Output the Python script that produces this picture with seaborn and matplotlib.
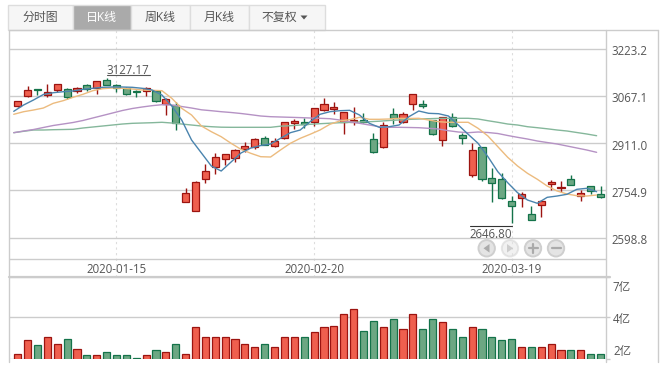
import pandas as pd
import numpy as np
import seaborn as sns
import matplotlib.pyplot as plt
from matplotlib.patches import Rectangle, Circle, Polygon
from matplotlib.transforms import ScaledTranslation

# candle values
opens = [3034.7, 3066.7, 3088.9, 3071.0, 3086.6, 3090.9, 3083.3, 3102.1, 3092.2, 3118.6,
         3102.1, 3094.2, 3083.3, 3082.3, 3084.3, 3040.3, 3036.0, 2715.2, 2685.4, 2793.2,
         2830.9, 2857.4, 2860.7, 2891.5, 2897.1, 2926.8, 2900.4, 2926.8, 2977.4, 2979.8,
         2981.7, 3021.4, 3023.7, 2981.7, 2979.8, 2987.4, 2923.5, 2899.1, 3006.2, 2979.8,
         3039.3, 3040.3, 2987.4, 2920.2, 2998.3, 2936.8, 2804.5, 2897.1, 2794.6, 2791.3,
         2718.5, 2728.4, 2675.5, 2705.3, 2776.7, 2763.5, 2791.3, 2737.0, 2768.1, 2741.7]
closes = [3049.2, 3085.6, 3085.6, 3080.9, 3105.4, 3064.4, 3094.2, 3090.9, 3115.3, 3104.1,
          3093.2, 3074.3, 3079.0, 3094.2, 3051.2, 3057.8, 2976.4, 2745.0, 2781.3, 2817.7,
          2866.0, 2873.9, 2889.1, 2900.4, 2925.5, 2905.7, 2916.9, 2981.7, 2983.1, 2974.1,
          3028.0, 3039.3, 3029.4, 3012.8, 2987.4, 2982.4, 2880.5, 2969.8, 2993.0, 3008.2,
          3072.3, 3033.7, 2942.1, 2996.3, 2966.5, 2926.8, 2887.2, 2791.3, 2778.0, 2728.4,
          2702.0, 2743.6, 2657.7, 2720.5, 2782.3, 2765.8, 2771.4, 2745.0, 2751.6, 2733.7]
highs = [3049.2, 3099.8, 3090.9, 3105.4, 3105.4, 3093.2, 3096.5, 3107.4, 3115.3, 3127.17,
         3106.4, 3096.5, 3086.6, 3095.5, 3086.6, 3061.1, 3047.9, 2763.5, 2785.6, 2840.9,
         2877.2, 2875.0, 2891.5, 2913.6, 2926.8, 2934.4, 2926.8, 2981.7, 2990.7, 2993.0,
         3028.0, 3059.1, 3045.9, 3012.8, 3029.4, 3009.5, 2945.4, 2979.8, 3026.1, 3012.8,
         3072.3, 3053.5, 2989.0, 2998.3, 3009.5, 2943.4, 2910.3, 2897.1, 2827.6, 2813.1,
         2736.0, 2750.2, 2702.0, 2722.8, 2788.9, 2786.6, 2804.5, 2755.9, 2768.1, 2770.1]
lows = [3029.4, 3064.4, 3070.0, 3064.4, 3080.9, 3055.8, 3077.6, 3084.3, 3073.3, 3102.1,
        3080.9, 3070.0, 3064.4, 3067.7, 3046.9, 3003.9, 2954.3, 2715.2, 2685.4, 2778.0,
        2807.8, 2838.5, 2849.5, 2880.5, 2890.5, 2903.7, 2899.1, 2923.5, 2957.6, 2961.9,
        2966.5, 3017.1, 3006.2, 2942.1, 2970.8, 2979.1, 2877.2, 2895.8, 2974.1, 2978.4,
        3021.4, 3026.1, 2937.8, 2902.4, 2964.2, 2907.0, 2797.9, 2784.6, 2715.2, 2727.1,
        2646.8, 2700.6, 2656.7, 2665.6, 2755.9, 2750.2, 2771.4, 2720.5, 2741.7, 2730.4]

ma5 = [3016.1, 3037.0, 3053.5, 3071.7, 3077.6, 3080.9, 3083.3, 3088.9, 3092.2, 3095.5,
       3096.5, 3096.5, 3095.5, 3092.2, 3086.6, 3070.0, 3033.7, 2987.4, 2921.2, 2878.2,
       2835.2, 2818.7, 2848.5, 2878.2, 2894.8, 2903.0, 2908.0, 2926.8, 2945.4, 2954.3,
       2981.7, 3006.2, 3014.8, 3018.1, 3019.4, 3003.9, 2976.4, 2963.2, 2965.2, 2970.8,
       2998.3, 3017.1, 3009.5, 3008.2, 3000.6, 2970.8, 2940.1, 2910.3, 2866.0, 2816.4,
       2780.0, 2746.9, 2722.8, 2711.9, 2731.7, 2736.0, 2741.7, 2758.2, 2761.5, 2750.2]
ma10 = [3006.2, 3014.8, 3020.4, 3027.0, 3042.6, 3051.2, 3062.4, 3072.3, 3084.3, 3090.9,
        3093.2, 3092.2, 3089.9, 3086.6, 3085.6, 3084.3, 3059.1, 3026.1, 3003.9, 2967.5,
        2948.7, 2932.1, 2910.3, 2890.5, 2877.2, 2866.0, 2865.0, 2888.2, 2910.3, 2926.8,
        2940.1, 2954.3, 2973.2, 2984.1, 2988.4, 2996.3, 2989.7, 2989.7, 2990.7, 2993.0,
        2992.3, 2993.0, 2987.4, 2981.7, 2979.8, 2979.8, 2979.8, 2959.9, 2934.4, 2899.1,
        2864.0, 2835.2, 2811.1, 2791.3, 2769.1, 2752.6, 2742.6, 2737.0, 2736.0, 2739.3]
ma20 = [2945.4, 2951.0, 2955.9, 2962.6, 2969.2, 2974.1, 2979.1, 2985.7, 2994.0, 3002.2,
        3010.5, 3018.8, 3025.4, 3030.4, 3034.7, 3038.0, 3037.0, 3032.0, 3027.0, 3021.1,
        3018.1, 3014.8, 3012.2, 3008.9, 3004.9, 3000.6, 2998.3, 2997.3, 2996.3, 2995.3,
        2994.0, 2993.0, 2991.7, 2987.4, 2981.7, 2976.4, 2970.8, 2965.2, 2963.2, 2963.2,
        2962.6, 2961.9, 2959.9, 2957.6, 2952.0, 2947.7, 2945.4, 2947.7, 2946.0, 2942.7,
        2936.1, 2930.1, 2924.5, 2917.9, 2912.9, 2908.0, 2901.4, 2894.8, 2888.2, 2880.5]
ma30 = [2945.4, 2950.0, 2954.3, 2954.3, 2955.3, 2955.9, 2956.6, 2960.9, 2964.2, 2967.5,
        2970.8, 2974.1, 2976.4, 2977.4, 2978.4, 2979.8, 2977.4, 2974.1, 2970.8, 2967.5,
        2965.2, 2963.6, 2963.2, 2963.2, 2963.2, 2963.2, 2963.2, 2966.9, 2968.5, 2970.8,
        2973.2, 2975.1, 2976.8, 2978.4, 2979.4, 2980.7, 2981.7, 2983.4, 2985.7, 2987.4,
        2989.4, 2990.7, 2991.7, 2992.7, 2993.0, 2993.0, 2993.0, 2990.7, 2985.0, 2979.8,
        2974.1, 2970.8, 2965.2, 2961.9, 2958.3, 2954.3, 2951.0, 2946.0, 2941.1, 2935.4]

# volume, in 亿
volume = [2.28, 3.01, 2.73, 3.23, 2.84, 3.07, 2.56, 2.22, 2.22, 2.39,
          2.17, 2.17, 2.03, 2.22, 2.45, 2.34, 2.84, 2.28, 3.74, 3.18,
          3.23, 3.18, 3.07, 2.79, 2.62, 2.84, 2.62, 3.23, 3.23, 3.23,
          3.51, 3.74, 3.80, 4.47, 4.75, 3.57, 4.08, 3.74, 4.19, 3.63,
          4.52, 3.68, 4.19, 4.02, 3.63, 3.18, 3.74, 3.63, 3.18, 3.01,
          3.12, 2.62, 2.62, 2.67, 2.84, 2.45, 2.50, 2.50, 2.28, 2.28]

price_ticks = [3223.2, 3067.1, 2911.0, 2754.9, 2598.8]
date_ticks = [10, 30, 50]
date_labels = ['2020-01-15', '2020-02-20', '2020-03-19']
vol_ticks = [2.0, 4.3, 6.57]
vol_labels = ['2亿', '4亿', '7亿']
tabs = ['分时图', '日K线', '周K线', '月K线', '不复权']

RED, RED_EDGE = '#ef5f4e', '#9c1410'
GREEN, GREEN_EDGE = '#6ca783', '#14734a'
GRID = '#cccccc'
TEXT = '#555555'

sns.set_style('white')
plt.rcParams['font.family'] = ['Open Sans', 'Noto Sans CJK SC', 'DejaVu Sans']
plt.rcParams['font.size'] = 8.3

W, H = 669, 372
fig = plt.figure(figsize=(W / 100, H / 100), dpi=100)


def px_axes(x0, y0, x1, y1):
    return fig.add_axes([x0 / W, 1 - y1 / H, (x1 - x0) / W, (y1 - y0) / H])


def nudge(label, dy_px):
    # move a tick label down by a few pixels
    label.set_transform(label.get_transform() + ScaledTranslation(0, -dy_px / 100, fig.dpi_scale_trans))


ax = px_axes(8.5, 30, 606, 277)
vax = px_axes(8.5, 277, 606, 358.5)

df = pd.DataFrame({'idx': np.arange(len(opens)), 'open': opens, 'close': closes,
                   'high': highs, 'low': lows, 'volume': volume})
df['up'] = df['close'] >= df['open']

# candles
for up, fc, ec in [(True, RED, RED_EDGE), (False, GREEN, GREEN_EDGE)]:
    d = df[df['up'] == up]
    ax.vlines(d['idx'], d['low'], d['high'], color=ec, lw=1, zorder=2)
    ax.bar(d['idx'], (d['close'] - d['open']).abs(), bottom=d[['open', 'close']].min(axis=1),
           width=0.72, color=fc, edgecolor=ec, linewidth=0.9, zorder=3)

# moving averages sit a bit left of the candles in the original
ma = pd.DataFrame({'MA5': ma5, 'MA10': ma10, 'MA20': ma20, 'MA30': ma30})
ma['x'] = df['idx'] - 0.4
ma_long = ma.melt(id_vars='x', var_name='ma', value_name='price')
sns.lineplot(data=ma_long, x='x', y='price', hue='ma', hue_order=['MA30', 'MA20', 'MA10', 'MA5'],
             palette=['#85b79b', '#b592c4', '#ecbb7e', '#4a84ae'], lw=1, legend=False,
             errorbar=None, ax=ax, zorder=4)

# high / low labels
ax.plot([9, 13.4], [3135.2, 3135.2], color='#555555', lw=0.8, zorder=5)
ax.text(9, 3131, '3127.17', color=TEXT, ha='left', va='bottom', zorder=5)
ax.plot([45.8, 50], [2636.8, 2636.8], color='#333333', lw=0.8, zorder=5)
ax.text(50, 2630, '2646.80', color=TEXT, ha='right', va='top', zorder=5)

ax.set_xlim(-0.93, 59.55)
ax.set_ylim(2468.2, 3285.0)
ax.set_xlabel('')
ax.set_ylabel('')
ax.set_yticks(price_ticks)
ax.set_yticklabels([f'{p:.1f}' for p in price_ticks])
ax.yaxis.tick_right()
ax.tick_params(axis='y', length=0, pad=3.6, labelcolor=TEXT)
for lab in ax.get_yticklabels():
    nudge(lab, 1.5)
ax.set_xticks(date_ticks)
ax.set_xticklabels(date_labels)
ax.tick_params(axis='x', length=0, pad=-10, labelcolor=TEXT)
ax.grid(axis='y', color=GRID, lw=1, zorder=1)
ax.grid(axis='x', color='#dddddd', lw=0.8, ls=(0, (2, 3)), zorder=1)
ax.axhline(2529, color=GRID, lw=1, zorder=1)
ax.set_axisbelow(True)
for s in ax.spines.values():
    s.set_visible(False)

# volume bars
for up, fc, ec in [(True, RED, RED_EDGE), (False, GREEN, GREEN_EDGE)]:
    sns.barplot(data=df[df['up'] == up], x='idx', y='volume', native_scale=True, width=0.72,
                color=fc, saturation=1, edgecolor=ec, linewidth=0.9, errorbar=None,
                ax=vax, zorder=3)
vax.set_xlim(-0.93, 59.55)
vax.set_ylim(2.0, 6.57)
vax.set_xlabel('')
vax.set_ylabel('')
vax.set_xticks([])
vax.set_yticks(vol_ticks)
vax.set_yticklabels(vol_labels)
vax.yaxis.tick_right()
vax.tick_params(axis='y', length=3, width=1, color=GRID, pad=2, labelcolor=TEXT)
for lab, va, dy in zip(vax.get_yticklabels(), ['bottom', 'center', 'top'], [0, 2.5, 4.5]):
    lab.set_va(va)
    nudge(lab, dy)
vax.grid(axis='y', color=GRID, lw=1, zorder=1)
vax.set_axisbelow(True)
for s in vax.spines.values():
    s.set_visible(False)

# page chrome in pixel coordinates
ov = fig.add_axes([0, 0, 1, 1], zorder=10)
ov.set_xlim(0, W)
ov.set_ylim(H, 0)
ov.axis('off')
ov.patch.set_alpha(0)

ov.plot([8.5, 657.5], [30, 30], color=GRID, lw=1)
ov.plot([8.5, 8.5], [30, 362], color=GRID, lw=1)
ov.plot([606, 606], [30, 362], color=GRID, lw=1)
ov.plot([657.5, 657.5], [30, 362], color=GRID, lw=1)
ov.plot([8.5, 610], [277, 277], color=GRID, lw=1.6)

tab_edges = [8, 72.5, 131, 190, 249, 325]
for i, name in enumerate(tabs):
    x0, x1 = tab_edges[i], tab_edges[i + 1]
    active = i == 1
    ov.add_patch(Rectangle((x0, 4.5), x1 - x0, 25.5, fc='#aaaaaa' if active else '#f6f6f6',
                           ec='#dddddd', lw=1))
    tx = (x0 + x1) / 2 - (8 if i == 4 else 0)
    ov.text(tx, 17, name, ha='center', va='center', fontsize=8.6,
            color='white' if active else '#555555')
ov.add_patch(Polygon([[300.5, 15.5], [307.5, 15.5], [304, 19.5]], fc='#555555', ec='none'))

# zoom / pan buttons
for cx, alpha in [(486.7, 1), (510, 0.5), (533, 1), (556, 1)]:
    ov.add_patch(Circle((cx, 248.3), 8.2, fc='#e4e4e4', ec='#cfcfcf', lw=1.4, alpha=alpha))
ov.add_patch(Polygon([[483.5, 248.3], [489.5, 244], [489.5, 252.6]], fc='#aaaaaa', ec='none'))
ov.add_patch(Polygon([[513, 248.3], [507, 244], [507, 252.6]], fc='#aaaaaa', ec='none', alpha=0.5))
ov.plot([528.5, 537.5], [248.3, 248.3], color='#aaaaaa', lw=1.6)
ov.plot([533, 533], [243.8, 252.8], color='#aaaaaa', lw=1.6)
ov.plot([551.5, 560.5], [248.3, 248.3], color='#aaaaaa', lw=1.6)

fig.savefig('out.png', dpi=100)
